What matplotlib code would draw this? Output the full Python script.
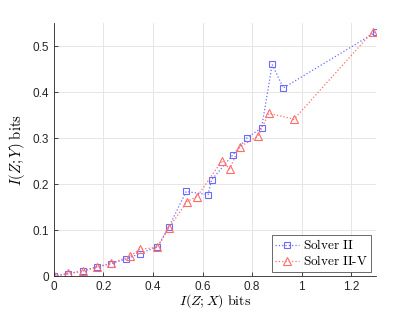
import matplotlib
matplotlib.use("Agg")
import matplotlib.pyplot as plt

# Solver II (squares)
x_s2 = [0, 0.058, 0.116, 0.173, 0.231, 0.289, 0.347, 0.418, 0.463, 0.534, 0.622,
        0.636, 0.723, 0.780, 0.838, 0.881, 0.926, 1.301]
y_s2 = [0, 0.005, 0.011, 0.020, 0.027, 0.037, 0.049, 0.064, 0.106, 0.184, 0.177,
        0.209, 0.264, 0.301, 0.322, 0.460, 0.409, 0.531]

# Solver II-V (triangles)
x_s2v = [0, 0.058, 0.116, 0.173, 0.231, 0.305, 0.347, 0.418, 0.463, 0.537, 0.578,
         0.679, 0.709, 0.750, 0.823, 0.868, 0.969, 1.286]
y_s2v = [0, 0.006, 0.011, 0.020, 0.028, 0.043, 0.058, 0.063, 0.104, 0.162, 0.173,
         0.251, 0.233, 0.281, 0.304, 0.354, 0.341, 0.531]

x_ticks = [0, 0.2, 0.4, 0.6, 0.8, 1, 1.2]
x_ticklabels = ["0", "0.2", "0.4", "0.6", "0.8", "1", "1.2"]
y_ticks = [0, 0.1, 0.2, 0.3, 0.4, 0.5]
y_ticklabels = ["0", "0.1", "0.2", "0.3", "0.4", "0.5"]

plt.rcParams["font.family"] = "Liberation Sans"
plt.rcParams["mathtext.fontset"] = "cm"

fig = plt.figure(figsize=(4.15, 3.12), dpi=100)
ax = fig.add_axes([0.130, 0.115, 0.776, 0.811])

blue = "#6b6bff"
red = "#ff6b6b"
ax.plot(x_s2, y_s2, linestyle=":", color=blue, lw=0.9, marker="s", ms=4.5,
        mfc="none", mec=blue, mew=0.8, label=r"$\mathrm{Solver\ II}$")
ax.plot(x_s2v, y_s2v, linestyle=":", color=red, lw=0.9, marker="^", ms=6,
        mfc="none", mec=red, mew=0.8, label=r"$\mathrm{Solver\ II\text{-}V}$")

ax.set_xlim(0, 1.3)
ax.set_ylim(0, 0.55)
ax.set_xticks(x_ticks)
ax.set_xticklabels(x_ticklabels)
ax.set_yticks(y_ticks)
ax.set_yticklabels(y_ticklabels)
ax.tick_params(direction="in", length=3, labelsize=8.5, colors="#262626", width=0.6)
ax.grid(True, color="#e6e6e6", lw=0.7)
ax.set_axisbelow(True)
for side in ("top", "right"):
    ax.spines[side].set_visible(False)
for side in ("left", "bottom"):
    ax.spines[side].set_color("#262626")
    ax.spines[side].set_linewidth(0.6)

ax.set_xlabel(r"$I(Z;X)\ \mathrm{bits}$", fontsize=10, labelpad=-0.5)
ax.set_ylabel(r"$I(Z;Y)\ \mathrm{bits}$", fontsize=10.5, labelpad=4)

leg = ax.legend(loc="lower right", fontsize=9.5, frameon=True, fancybox=False,
                borderpad=0.25, handlelength=1.8, labelspacing=0.15,
                borderaxespad=0.35, handletextpad=0.3)
leg.get_frame().set_edgecolor("#262626")
leg.get_frame().set_linewidth(0.6)

fig.savefig("out.png", dpi=100)
